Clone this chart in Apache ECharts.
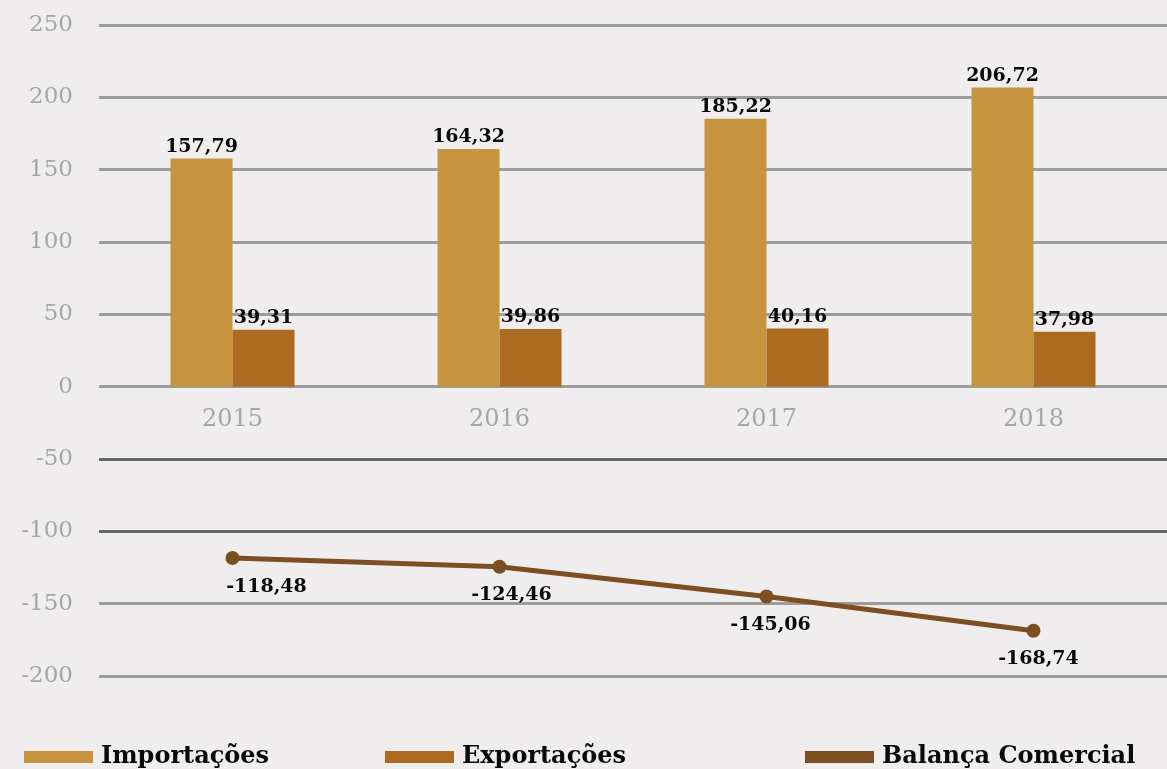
<!DOCTYPE html>
<html>
<head>
<meta charset="utf-8">
<script src="https://cdn.jsdelivr.net/npm/echarts@6/dist/echarts.min.js"></script>
<style>
  html, body { margin: 0; padding: 0; background: #efedee; }
  #chart { width: 1167px; height: 769px; }
</style>
</head>
<body>
<div id="chart"></div>
<script>
// Balança comercial (2015–2018)
const anos = ['2015', '2016', '2017', '2018'];
const importacoes = [157.79, 164.32, 185.22, 206.72];
const exportacoes = [39.31, 39.86, 40.16, 37.98];
const balanca = [-118.48, -124.46, -145.06, -168.74];
const yTicks = [-200, -150, -100, -50, 0, 50, 100, 150, 200, 250];

// horizontal nudges for the line's value labels
const balancaLabelDx = [34, 12, 4, 5];

const fmt = v => v.toFixed(2).replace('.', ',');

const serif = 'DejaVu Serif';
const labelStyle = {
  fontFamily: serif, fontWeight: 'bold', fontSize: 19, color: '#0a0a0a'
};

// grid geometry
const W = 1167, H = 769;
const gridTop = 25, gridBottom = 93;
const gridHeight = H - gridTop - gridBottom;
const yMin = yTicks[0], yMax = yTicks[yTicks.length - 1];
// lift the category axis from the grid bottom up to the zero line
const zeroLift = -(0 - yMin) / (yMax - yMin) * gridHeight;

// grid line colours, listed from the bottom tick upward
const gridColors = yTicks.map(t => (t === -100 || t === -50) ? '#666666' : '#9c9c9c');

const chart = echarts.init(document.getElementById('chart'));
chart.setOption({
  backgroundColor: '#efedee',
  animation: false,
  grid: { left: 99, right: 0, top: gridTop, bottom: gridBottom, containLabel: false },
  xAxis: {
    type: 'category',
    data: anos,
    offset: zeroLift,
    axisLine: { show: false, onZero: false },
    axisTick: { show: false },
    axisLabel: {
      margin: 21, fontFamily: serif, fontSize: 24, color: '#a6a6a6'
    }
  },
  yAxis: {
    type: 'value',
    min: yMin,
    max: yMax,
    interval: 50,
    axisLine: { show: false },
    axisTick: { show: false },
    axisLabel: {
      margin: 26, fontFamily: serif, fontSize: 23, color: '#a6a6a6'
    },
    splitLine: { lineStyle: { width: 3, color: gridColors } }
  },
  legend: [
    { data: ['Importações'], left: 24 },
    { data: ['Exportações'], left: 385 },
    { data: ['Balança Comercial'], left: 805 }
  ].map(l => Object.assign(l, {
    top: 745, padding: 0, icon: 'rect', itemWidth: 69, itemHeight: 12, itemGap: 8,
    textStyle: { fontFamily: serif, fontWeight: 'bold', fontSize: 24, color: '#0a0a0a',
      padding: [0, 0, 0, 3] }
  })),
  series: [
    {
      name: 'Importações', type: 'bar', data: importacoes,
      barWidth: 62, barGap: '0%',
      itemStyle: { color: '#c6943e' },
      label: Object.assign({ show: true, position: 'top', distance: 2,
        formatter: p => fmt(p.value) }, labelStyle)
    },
    {
      name: 'Exportações', type: 'bar', data: exportacoes,
      barWidth: 62,
      itemStyle: { color: '#ad6b22' },
      label: Object.assign({ show: true, position: 'top', distance: 2,
        formatter: p => fmt(p.value) }, labelStyle)
    },
    {
      name: 'Balança Comercial', type: 'line',
      data: balanca.map((v, i) => ({
        value: v, label: { offset: [balancaLabelDx[i], 0] }
      })),
      symbol: 'circle', symbolSize: 14,
      lineStyle: { width: 5, color: '#7b4f22' },
      itemStyle: { color: '#7b4f22' },
      label: Object.assign({ show: true, position: 'bottom', distance: 12,
        formatter: p => fmt(p.value) }, labelStyle)
    }
  ]
});
</script>
</body>
</html>
